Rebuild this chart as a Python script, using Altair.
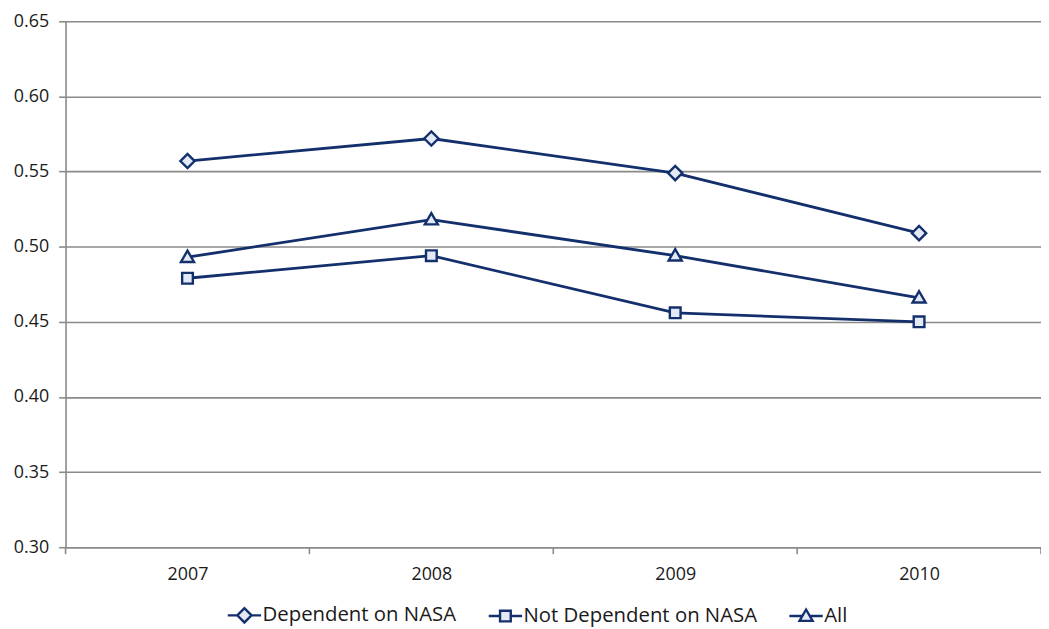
import altair as alt
import pandas as pd

# ---- data ----
years = [2007, 2008, 2009, 2010]
series_names = ["Dependent on NASA", "Not Dependent on NASA", "All"]
dependent = [0.557, 0.572, 0.549, 0.509]
not_dependent = [0.479, 0.494, 0.456, 0.450]
all_vals = [0.493, 0.518, 0.494, 0.466]

y_ticks = [0.30, 0.35, 0.40, 0.45, 0.50, 0.55, 0.60, 0.65]
x_boundaries = [2006.5, 2007.5, 2008.5, 2009.5, 2010.5]

rows = []
for name, vals in zip(series_names, [dependent, not_dependent, all_vals]):
    for yr, v in zip(years, vals):
        rows.append({"year": yr, "value": v, "series": name})
df = pd.DataFrame(rows)
df_bounds = pd.DataFrame({"year": x_boundaries})

NAVY = "#14306c"
LIGHT = "#e3eaf5"
GRID = "#8a8a8a"
FONT = "Open Sans"
PLOT_H = 530

marker_paths = [
    "M-1.2,0L0,-1.2L1.2,0L0,1.2Z",
    "M-0.9,-0.9H0.9V0.9H-0.9Z",
    "M0,-1.1L1.1,0.8H-1.1Z",
]
legend_paths = [
    "M-2.8,0H-1.2M1.2,0H2.8M-1.2,0L0,-1.2L1.2,0L0,1.2Z",
    "M-2.8,0H-0.9M0.9,0H2.8M-0.9,-0.9H0.9V0.9H-0.9Z",
    "M-2.8,0H-0.65M0.65,0H2.8M0,-1.1L1.1,0.8H-1.1Z",
]

x_scale = alt.Scale(domain=[2006.5, 2010.5], nice=False, zero=False)
x_enc = alt.X(
    "year:Q",
    scale=x_scale,
    axis=alt.Axis(
        values=years,
        format="d",
        grid=False,
        title=None,
        ticks=False,
        labelPadding=19,
        labelOverlap=False,
    ),
)
y_enc = alt.Y(
    "value:Q",
    scale=alt.Scale(domain=[0.30, 0.65], nice=False, zero=False),
    axis=alt.Axis(values=y_ticks, format=".2f", title=None, tickSize=7, labelPadding=10),
)

base = alt.Chart(df)

lines = base.mark_line(color=NAVY, strokeWidth=2.8).encode(
    x=x_enc, y=y_enc, detail="series:N"
)

# one marker layer per series, each with its own marker shape
point_layers = [
    base.transform_filter(alt.datum.series == name)
    .mark_point(
        shape=path, filled=True, fill=LIGHT, stroke=NAVY,
        strokeWidth=2.4, size=144, opacity=1,
    )
    .encode(x=x_enc, y=y_enc)
    for name, path in zip(series_names, marker_paths)
]

# category boundary tick marks below the x axis
bound_ticks = alt.Chart(df_bounds).mark_rule(color=GRID, strokeWidth=1.6).encode(
    x=alt.X("year:Q", scale=x_scale),
    y=alt.value(PLOT_H),
    y2=alt.value(PLOT_H + 7),
)

legend_props = dict(
    title=None,
    orient="none",
    legendX=170,
    legendY=588,
    direction="horizontal",
    symbolSize=144,
    symbolStrokeWidth=2.4,
    symbolFillColor=LIGHT,
    symbolOpacity=1,
    labelFont=FONT,
    labelFontSize=20.5,
    labelColor="#1a1a1a",
    labelLimit=0,
    labelOffset=8,
    columnPadding=27,
)

legend_layer = base.transform_filter("false").mark_point(
    filled=False, fill=LIGHT, strokeWidth=2.4, size=144, opacity=1
).encode(
    shape=alt.Shape(
        "series:N",
        scale=alt.Scale(domain=series_names, range=legend_paths),
        legend=alt.Legend(**legend_props),
    ),
    stroke=alt.Stroke(
        "series:N",
        scale=alt.Scale(domain=series_names, range=[NAVY, NAVY, NAVY]),
        legend=alt.Legend(**legend_props),
    ),
)

chart = (
    alt.layer(lines, *point_layers, bound_ticks, legend_layer)
    .properties(
        width=983,
        height=PLOT_H,
        autosize="none",
        padding={"left": 58, "top": 11, "right": 0, "bottom": 78},
    )
    .configure_view(stroke=None)
    .configure_axis(
        domainColor=GRID,
        domainWidth=1.6,
        gridColor=GRID,
        gridWidth=1.6,
        tickColor=GRID,
        tickWidth=1.6,
        labelFont=FONT,
        labelFontSize=18,
        labelColor="#1a1a1a",
    )
)

chart.save("out.html", embed_options={"renderer": "svg", "actions": False})
